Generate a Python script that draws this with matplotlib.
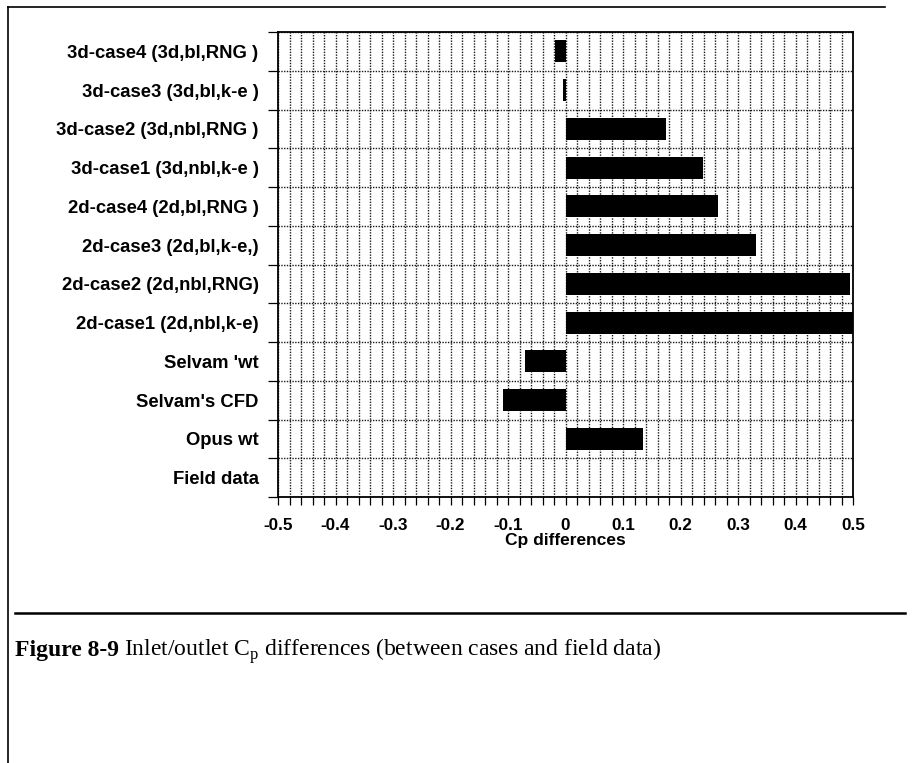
import matplotlib
matplotlib.use("Agg")
import matplotlib.pyplot as plt
from matplotlib.ticker import MultipleLocator, FixedLocator, FuncFormatter
from matplotlib.lines import Line2D

# cases, bottom to top as drawn
categories = [
    "Field data",
    "Opus wt",
    "Selvam's CFD",
    "Selvam 'wt",
    "2d-case1 (2d,nbl,k-e)",
    "2d-case2 (2d,nbl,RNG)",
    "2d-case3 (2d,bl,k-e,)",
    "2d-case4 (2d,bl,RNG )",
    "3d-case1 (3d,nbl,k-e )",
    "3d-case2 (3d,nbl,RNG )",
    "3d-case3 (3d,bl,k-e )",
    "3d-case4 (3d,bl,RNG )",
]
cp_diff = [0.0, 0.134, -0.109, -0.070, 0.50, 0.495, 0.331, 0.266, 0.239, 0.174, -0.005, -0.018]
x_ticks = [-0.5, -0.4, -0.3, -0.2, -0.1, 0, 0.1, 0.2, 0.3, 0.4, 0.5]

plt.rcParams["font.family"] = ["Liberation Sans", "DejaVu Sans"]
plt.rcParams["axes.unicode_minus"] = False

W, H = 921, 763
fig = plt.figure(figsize=(W / 100, H / 100), dpi=100)
ax = fig.add_axes([278 / W, 1 - 497 / H, (853 - 278) / W, (497 - 32) / H])

y = range(len(categories))
ax.barh(y, cp_diff, height=0.57, color="black", zorder=3)

ax.set_xlim(-0.5, 0.5)
ax.set_ylim(-0.5, len(categories) - 0.5)
ax.xaxis.set_major_locator(FixedLocator(x_ticks))
ax.xaxis.set_minor_locator(MultipleLocator(0.02))
ax.xaxis.set_major_formatter(FuncFormatter(lambda v, p: f"{v:g}"))
ax.set_yticks(list(y), categories)
ax.yaxis.set_minor_locator(FixedLocator([i - 0.5 for i in range(len(categories) + 1)]))

ax.tick_params(axis="y", which="major", length=0, pad=14, labelsize=13.3)
ax.tick_params(axis="y", which="minor", length=7, width=0.9, direction="out")
ax.tick_params(axis="x", which="both", length=6, width=0.9, direction="out", labelsize=12.3, pad=9)
for lab in ax.get_xticklabels() + ax.get_yticklabels():
    lab.set_fontweight("bold")

grid_kw = dict(linestyle=(0, (1, 1)), color="black", linewidth=1.0, alpha=0.9)
ax.grid(True, axis="x", which="both", **grid_kw)
ax.grid(True, axis="y", which="minor", **grid_kw)
ax.set_axisbelow(True)
for s in ax.spines.values():
    s.set_linewidth(1.3)

ax.set_xlabel("Cp differences", fontsize=12.5, fontweight="bold", labelpad=0)

# page frame and rule
fig.add_artist(Line2D([8 / W, 8 / W], [0, 1 - 7 / H], color="black", lw=1.2))
fig.add_artist(Line2D([8 / W, 885 / W], [1 - 7 / H, 1 - 7 / H], color="black", lw=1.2))
fig.add_artist(Line2D([15 / W, 905 / W], [1 - 613 / H, 1 - 613 / H], color="black", lw=1.8))

# caption
t1 = fig.text(15 / W, 1 - 656 / H, "Figure 8-9", family="Liberation Serif",
              fontweight="bold", fontsize=17, va="baseline")
fig.canvas.draw()
bb = t1.get_window_extent()
plt.rcParams["mathtext.fontset"] = "custom"
plt.rcParams["mathtext.rm"] = "Liberation Serif"
fig.text(bb.x1 / W + 5 / W, 1 - 656 / H,
         r"Inlet/outlet $\mathrm{C}_\mathrm{p}$ differences (between cases and field data)",
         family="Liberation Serif", fontsize=17, va="baseline")

fig.savefig("out.png", dpi=100)
